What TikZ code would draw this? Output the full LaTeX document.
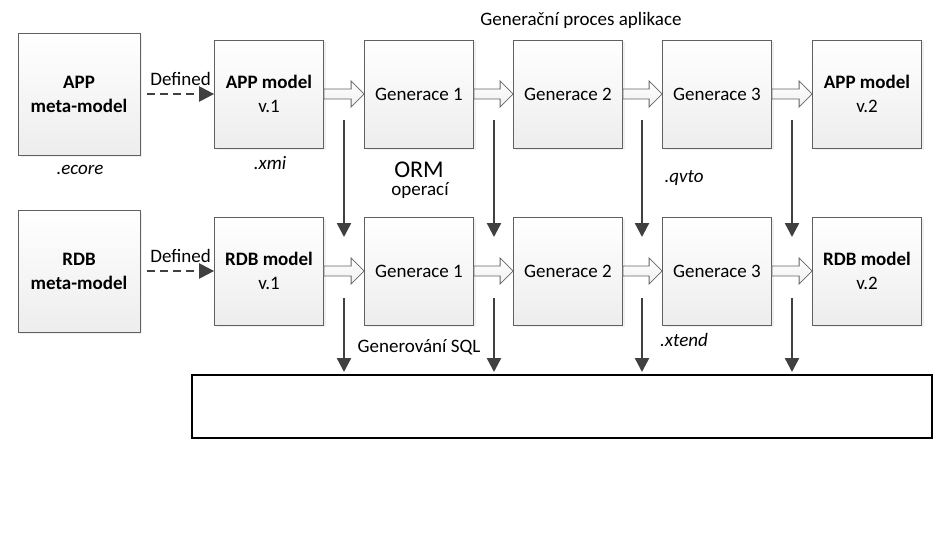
\documentclass[tikz,border=0pt]{standalone}
\usepackage{fontspec}
\setmainfont{Carlito}
\usetikzlibrary{arrows.meta,calc,shadows}

\begin{document}
\begin{tikzpicture}[x=1pt,y=-1pt,font=\fontsize{19}{24}\selectfont]
  \tikzset{box/.style={draw=gray!75!black, line width=0.8pt, top color=white, bottom color=gray!14,
      align=center, minimum width=109pt, minimum height=108pt,
      drop shadow={shadow xshift=2pt, shadow yshift=-2pt, opacity=0.12}}}
  \tikzset{metabox/.style={box, minimum width=122pt, minimum height=122pt}}
  \tikzset{down/.style={draw=black!75, line width=2.4pt, -{Triangle[length=14pt,width=14pt]}}}
  \tikzset{defarrow/.style={draw=black!75, line width=2.4pt, dash pattern=on 8pt off 5pt,
      -{Triangle[length=15pt,width=15pt]}}}
  \tikzset{hollow/.style={draw=gray!80!black, line width=0.8pt, top color=white, bottom color=gray!12,
      to path={let \p1=(\tikztostart), \p2=(\tikztotarget) in
        (\x1,{\y1+5pt}) -- ({\x2-13pt},{\y1+5pt}) -- ({\x2-13pt},{\y1+13pt}) -- (\x2,\y1)
        -- ({\x2-13pt},{\y1-13pt}) -- ({\x2-13pt},{\y1-5pt}) -- (\x1,{\y1-5pt}) -- cycle}}}
  \useasboundingbox (0,0) rectangle (945,546);
  \node (title) at (581,20) {Generační proces aplikace};
  \node[metabox] (appmeta) at (79,94) {\textbf{APP}\\\textbf{meta-model}};
  \node[box] (appv1) at (269,94) {\textbf{APP model}\\v.1};
  \node[box] (appg1) at (419,94) {Generace 1};
  \node[box] (appg2) at (568,94) {Generace 2};
  \node[box] (appg3) at (717,94) {Generace 3};
  \node[box] (appv2) at (867,94) {\textbf{APP model}\\v.2};
  \node[metabox] (rdbmeta) at (79,271) {\textbf{RDB}\\\textbf{meta-model}};
  \node[box] (rdbv1) at (269,271) {\textbf{RDB model}\\v.1};
  \node[box] (rdbg1) at (419,271) {Generace 1};
  \node[box] (rdbg2) at (568,271) {Generace 2};
  \node[box] (rdbg3) at (717,271) {Generace 3};
  \node[box] (rdbv2) at (867,271) {\textbf{RDB model}\\v.2};
  \node[draw, line width=1.2pt, minimum width=740pt, minimum height=63pt] (sql) at (562,406.5) {};
  \node (ecore) at (80,170) {\textit{.ecore}};
  \node (xmi) at (270,163) {\textit{.xmi}};
  \node[font=\fontsize{24}{26}\selectfont] (orm) at (419,170) {ORM};
  \node (operaci) at (420,191) {operací};
  \node (qvto) at (684,178) {\textit{.qvto}};
  \node (xtend) at (684,340) {\textit{.xtend}};
  \node (gensql) at (419,347) {Generování SQL};
  \coordinate (d1) at (147,94);
  \coordinate (d2) at (147,271);
  \draw[defarrow] (d1) -- node[above=4pt] {Defined} (appv1.west);
  \draw[defarrow] (d2) -- node[above=4pt] {Defined} (rdbv1.west);
  \draw[hollow] (appv1.east) to (appg1.west);
  \draw[hollow] (appg1.east) to (appg2.west);
  \draw[hollow] (appg2.east) to (appg3.west);
  \draw[hollow] (appg3.east) to (appv2.west);
  \draw[hollow] (rdbv1.east) to (rdbg1.west);
  \draw[hollow] (rdbg1.east) to (rdbg2.west);
  \draw[hollow] (rdbg2.east) to (rdbg3.west);
  \draw[hollow] (rdbg3.east) to (rdbv2.west);
  \coordinate (a1) at (344,120); \coordinate (b1) at (344,237);
  \coordinate (a2) at (494,120); \coordinate (b2) at (494,237);
  \coordinate (a3) at (642,120); \coordinate (b3) at (642,237);
  \coordinate (a4) at (792,120); \coordinate (b4) at (792,237);
  \draw[down] (a1) -- (b1);
  \draw[down] (a2) -- (b2);
  \draw[down] (a3) -- (b3);
  \draw[down] (a4) -- (b4);
  \coordinate (c1) at (344,298); \coordinate (e1) at (344,372);
  \coordinate (c2) at (494,298); \coordinate (e2) at (494,372);
  \coordinate (c3) at (642,298); \coordinate (e3) at (642,372);
  \coordinate (c4) at (792,298); \coordinate (e4) at (792,372);
  \draw[down] (c1) -- (e1);
  \draw[down] (c2) -- (e2);
  \draw[down] (c3) -- (e3);
  \draw[down] (c4) -- (e4);
\end{tikzpicture}
\end{document}
